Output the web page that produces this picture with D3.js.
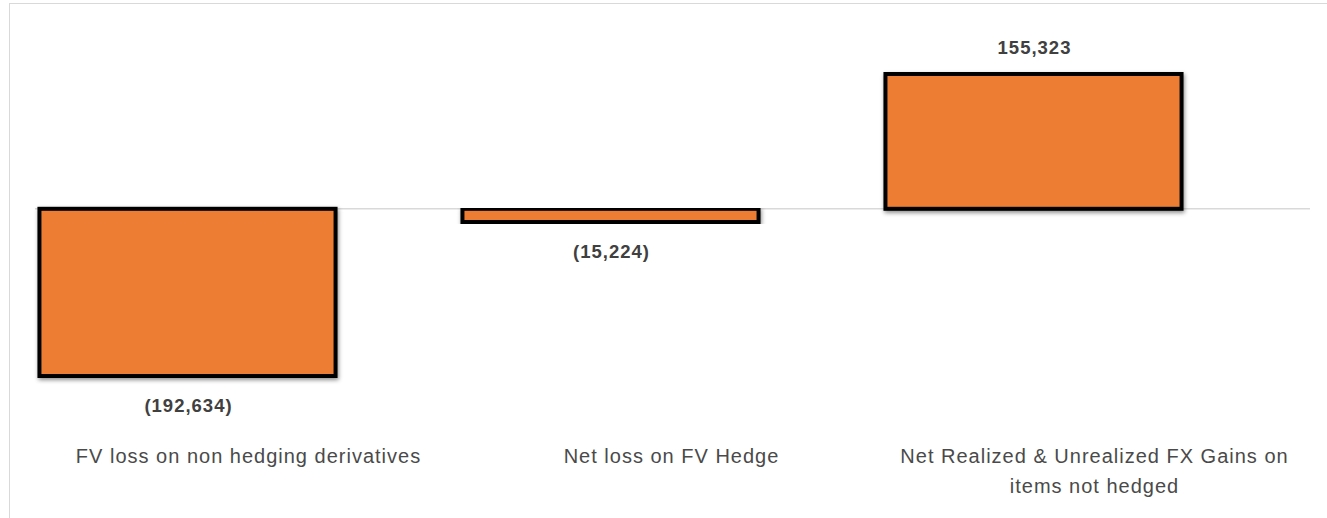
<!DOCTYPE html>
<html>
<head>
<meta charset="utf-8">
<script src="https://cdn.jsdelivr.net/npm/d3@7.9.0/dist/d3.min.js"></script>
<style>
  body { margin: 0; background: #fff; }
  svg text { font-family: "Liberation Sans", Arial, sans-serif; }
</style>
</head>
<body>
<svg id="chart" width="1327" height="518"></svg>
<script>
const categories = [
  'FV loss on non hedging derivatives',
  'Net loss on FV Hedge',
  'Net Realized & Unrealized FX Gains on|items not hedged'
];
const values = [-192634, -15224, 155323];
const valueLabels = ['(192,634)', '(15,224)', '155,323'];

const svg = d3.select('#chart');

// chart frame (top and left borders)
svg.append('line').attr('x1', 9).attr('x2', 1327).attr('y1', 3.5).attr('y2', 3.5)
  .attr('stroke', '#d9d9d9');
svg.append('line').attr('x1', 9.5).attr('x2', 9.5).attr('y1', 3).attr('y2', 518)
  .attr('stroke', '#d9d9d9');

const x = d3.scaleBand()
  .domain(categories)
  .range([-24, 1245])
  .paddingInner(0.3)
  .paddingOuter(0.15);

const y = d3.scaleLinear()
  .domain([-192634, 155323])
  .range([376, 74]);

const defs = svg.append('defs');
const f = defs.append('filter').attr('id', 'shadow')
  .attr('x', '-5%').attr('y', '-5%').attr('width', '110%').attr('height', '115%');
f.append('feDropShadow').attr('dx', 1).attr('dy', 2).attr('stdDeviation', 2)
  .attr('flood-color', '#000').attr('flood-opacity', 0.45);

// zero line
svg.append('line')
  .attr('x1', 35).attr('x2', 1310)
  .attr('y1', y(0)).attr('y2', y(0))
  .attr('stroke', '#d9d9d9').attr('stroke-width', 1.5);

svg.selectAll('rect.bar')
  .data(values)
  .join('rect')
  .attr('class', 'bar')
  .attr('x', (d, i) => x(categories[i]))
  .attr('width', x.bandwidth())
  .attr('y', d => y(Math.max(0, d)))
  .attr('height', d => Math.abs(y(d) - y(0)))
  .attr('fill', '#ed7d31')
  .attr('stroke', '#000')
  .attr('stroke-width', 4)
  .attr('filter', 'url(#shadow)');

// value labels
svg.selectAll('text.val')
  .data(values)
  .join('text')
  .attr('class', 'val')
  .attr('x', (d, i) => x(categories[i]) + x.bandwidth() / 2 + 1)
  .attr('y', d => d >= 0 ? y(d) - 20 : y(d) + 36)
  .attr('text-anchor', 'middle')
  .attr('font-size', 18.5)
  .attr('font-weight', 'bold')
  .attr('letter-spacing', 1)
  .attr('fill', '#404040')
  .text((d, i) => valueLabels[i]);

// category labels (Excel places them slightly right of the bar centre)
const cat = svg.selectAll('text.cat')
  .data(categories)
  .join('text')
  .attr('class', 'cat')
  .attr('x', d => x(d) + x.bandwidth() / 2 + 61)
  .attr('y', 463)
  .attr('text-anchor', 'middle')
  .attr('font-size', 20)
  .attr('letter-spacing', 1)
  .attr('fill', '#4a4a4a');
cat.each(function(d) {
  const lines = d.split('|');
  const t = d3.select(this);
  lines.forEach((ln, k) => {
    t.append('tspan')
      .attr('x', t.attr('x'))
      .attr('dy', k === 0 ? 0 : 30)
      .text(ln);
  });
});
</script>
</body>
</html>
